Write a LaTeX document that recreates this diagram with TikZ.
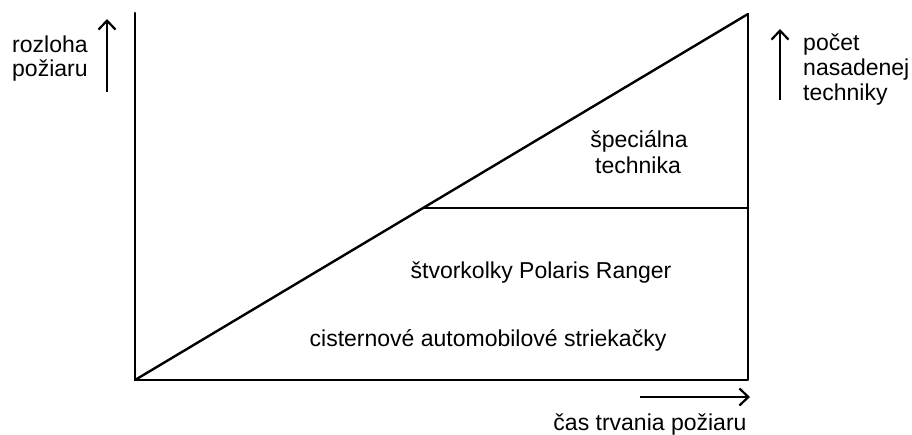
\documentclass[tikz,border=0pt]{standalone}
\usepackage{fontspec}
\setmainfont{Liberation Sans}
\usetikzlibrary{arrows.meta}
\begin{document}
\begin{tikzpicture}[x=1pt,y=-1pt,
  axisline/.style={line width=2.4pt,line cap=round,line join=round},
  arrowline/.style={line width=2.2pt,-{Straight Barb[length=9pt,width=17pt,line width=2.2pt]}},
  lbl/.style={font=\fontsize{23}{27}\selectfont,inner sep=0pt,anchor=base},
  lblw/.style={font=\fontsize{23}{27}\selectfont,inner sep=0pt,anchor=base west}]
\useasboundingbox (0,0) rectangle (912,434);
\fill[white] (0,0) rectangle (912,434);
% frame
\coordinate (O) at (135,380);
\coordinate (LT) at (135,13);
\coordinate (RB) at (748,380);
\coordinate (RT) at (748,14);
\coordinate (M) at (424,208);
\coordinate (MR) at (748,208);
\draw[axisline] (LT) -- (O) -- (RB) -- (RT);
\draw[axisline] (O) -- (RT);
\draw[axisline] (M) -- (MR);
% arrows
\coordinate (a1s) at (107,92); \coordinate (a1e) at (107,19);
\coordinate (a2s) at (780,100); \coordinate (a2e) at (780,29);
\coordinate (a3s) at (640,397); \coordinate (a3e) at (750,397);
\draw[arrowline] (a1s) -- (a1e);
\draw[arrowline] (a2s) -- (a2e);
\draw[arrowline] (a3s) -- (a3e);
% labels
\node[lblw] (r1) at (12,52) {rozloha};
\node[lblw] (r2) at (12,76) {požiaru};
\node[lblw] (p1) at (803,50) {počet};
\node[lblw] (p2) at (803,75) {nasadenej};
\node[lblw] (p3) at (803,100) {techniky};
\node[lbl] (s1) at (639,147) {špeciálna};
\node[lbl] (s2) at (638,173) {technika};
\node[lbl] (st) at (541,278) {štvorkolky Polaris Ranger};
\node[lbl] (ci) at (488,346) {cisternové automobilové striekačky};
\node[lbl] (ca) at (650,430) {čas trvania požiaru};
\end{tikzpicture}
\end{document}
